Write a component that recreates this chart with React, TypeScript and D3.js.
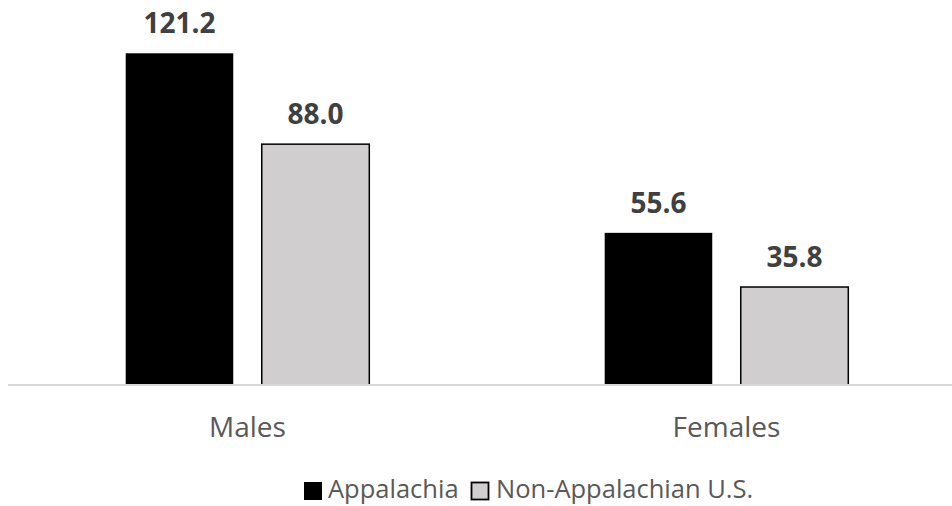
import React from "react";
import * as d3 from "d3";

const categories = ["Males", "Females"];
const seriesNames = ["Appalachia", "Non-Appalachian U.S."];
const appalachia = [121.2, 55.6];
const nonAppalachian = [88.0, 35.8];
const seriesColors = ["#000000", "#d0cecf"];

const W = 952;
const H = 506;
const FONT = "'Open Sans', sans-serif";

export default function App() {
  const baseline = 385;
  const x0 = d3.scaleBand<string>().domain(categories).range([8, 966]).paddingInner(0).paddingOuter(0);
  const groupW = 243.6;
  const gap = 28.5;
  const innerPad = (x0.bandwidth() - groupW) / 2;
  const x1 = d3
    .scaleBand<string>()
    .domain(seriesNames)
    .range([innerPad, x0.bandwidth() - innerPad])
    .paddingInner(gap / ((groupW + gap) / 2));
  const y = d3.scaleLinear().domain([0, 121.2]).range([baseline, 53.3]);
  const values = [appalachia, nonAppalachian];

  return (
    <svg width={W} height={H} style={{ display: "block", position: "absolute", left: 0, top: 0 }}>
      <rect x={0} y={0} width={W} height={H} fill="#ffffff" />
      {categories.map((c, ci) => (
        <g key={c} transform={`translate(${x0(c)},0)`}>
          {seriesNames.map((s, si) => {
            const v = values[si][ci];
            const bx = x1(s)!;
            const bw = x1.bandwidth();
            return (
              <g key={s}>
                <rect
                  x={bx}
                  y={y(v)}
                  width={bw}
                  height={baseline - y(v)}
                  fill={seriesColors[si]}
                  stroke="#000"
                  strokeWidth={si === 1 ? 1.5 : 0}
                />
                <text
                  x={bx + bw / 2}
                  y={y(v) - 20}
                  textAnchor="middle"
                  fontFamily={FONT}
                  fontWeight="bold"
                  fontSize={28}
                  fill="#404040"
                >
                  {v.toFixed(1)}
                </text>
              </g>
            );
          })}
          <text
            x={x0.bandwidth() / 2}
            y={437}
            textAnchor="middle"
            fontFamily={FONT}
            fontSize={28}
            fill="#595959"
          >
            {c}
          </text>
        </g>
      ))}
      <line x1={8} x2={W} y1={baseline} y2={baseline} stroke="#d9d9d9" strokeWidth={2} />
      <g>
        <rect x={304} y={482} width={18} height={18} fill={seriesColors[0]} />
        <text x={328} y={498} fontFamily={FONT} fontSize={25.5} fill="#595959">
          {seriesNames[0]}
        </text>
        <rect x={471.5} y={482.5} width={17} height={17} fill={seriesColors[1]} stroke="#000" strokeWidth={1.8} />
        <text x={496} y={498} fontFamily={FONT} fontSize={25.5} fill="#595959">
          {seriesNames[1]}
        </text>
      </g>
    </svg>
  );
}
